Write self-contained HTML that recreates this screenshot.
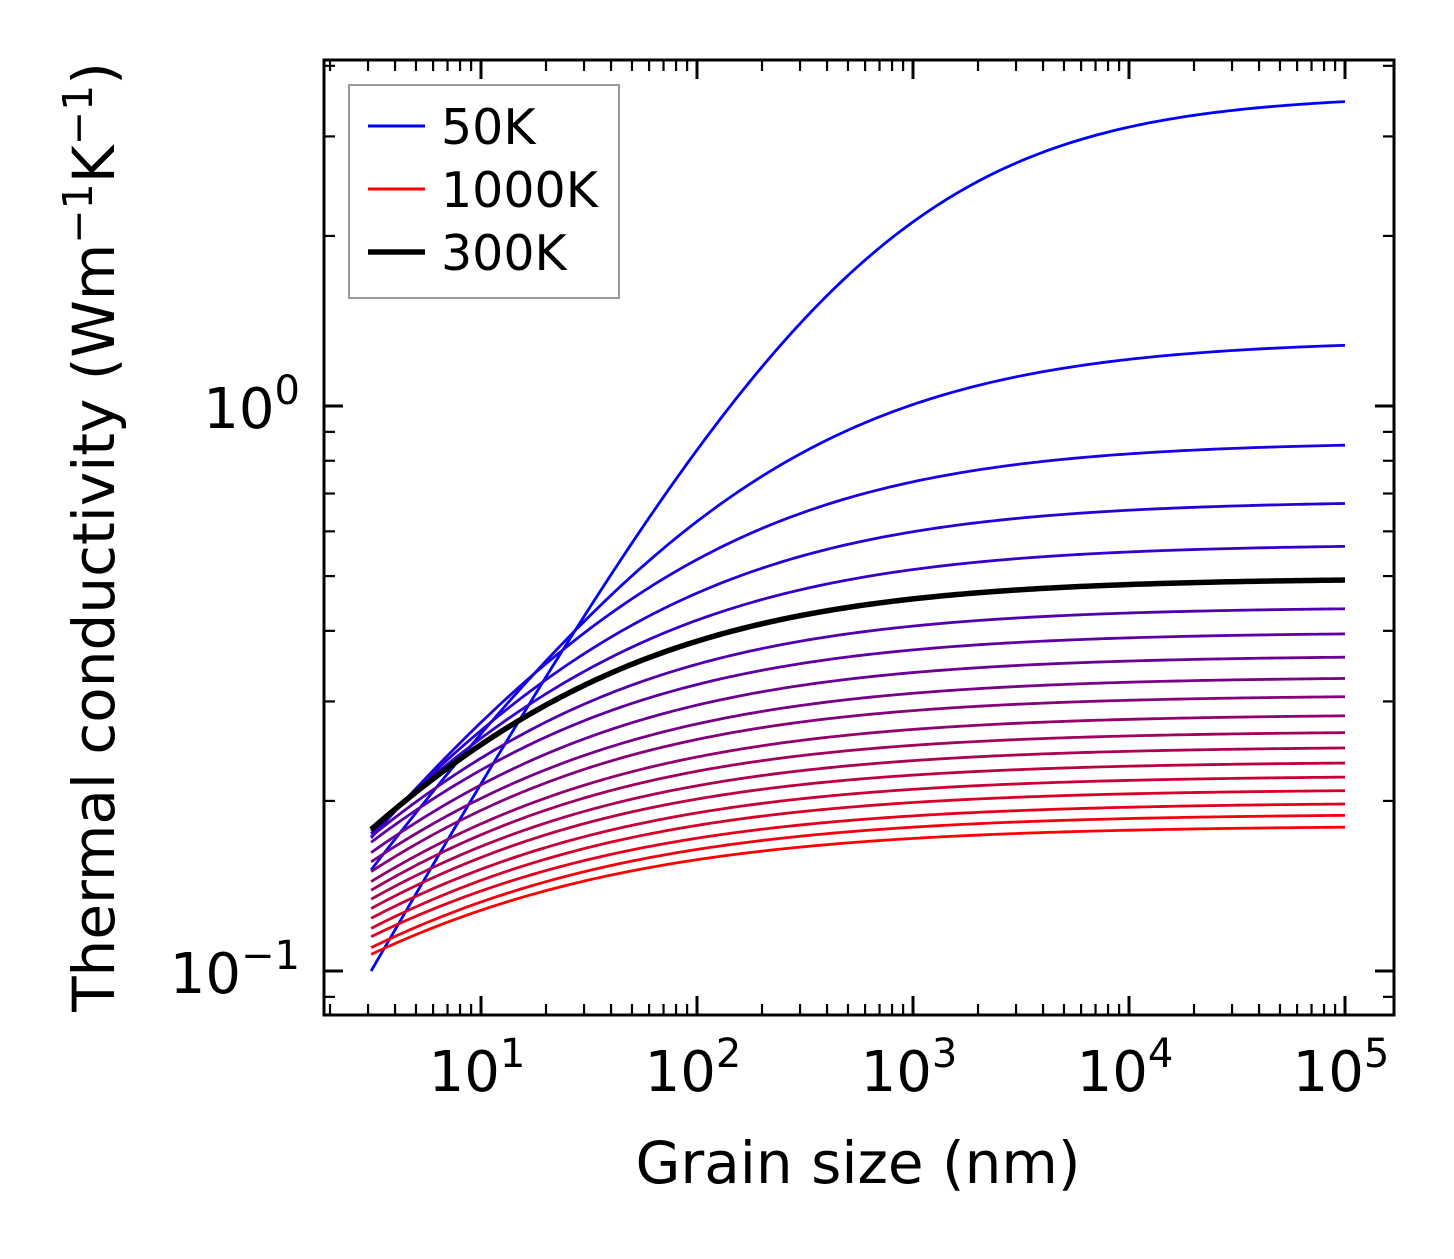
<!DOCTYPE html>
<html><head><meta charset="utf-8"><style>
html,body{margin:0;padding:0;background:#fff;}
svg text{font-family:"DejaVu Sans","Liberation Sans",sans-serif;fill:#000;}
</style></head><body>
<svg id="chart" width="1454" height="1254" viewBox="0 0 1454 1254" xmlns="http://www.w3.org/2000/svg">
<rect width="1454" height="1254" fill="#fff"/>
<g id="series"></g>
<g id="ticks"></g>
<rect x="324" y="60" width="1070" height="955" fill="none" stroke="#000" stroke-width="3"/>
<text x="858" y="1183" font-size="58" text-anchor="middle">Grain size (nm)</text>
<text transform="translate(114,537) rotate(-90)" font-size="58" text-anchor="middle">Thermal conductivity (Wm<tspan font-size="41" dy="-22">−1</tspan><tspan dy="22">K</tspan><tspan font-size="41" dy="-22">−1</tspan><tspan dy="22">)</tspan></text>
<g>
<rect x="349" y="85" width="270" height="213" fill="#fff" stroke="#999" stroke-width="2"/>
<line x1="368" y1="126" x2="425" y2="126" stroke="#0000ff" stroke-width="3"/>
<text x="441" y="144" font-size="49">50K</text>
<line x1="368" y1="189" x2="425" y2="189" stroke="#ff0000" stroke-width="3"/>
<text x="441" y="207" font-size="49">1000K</text>
<line x1="368" y1="252" x2="425" y2="252" stroke="#000" stroke-width="5.5"/>
<text x="441" y="270" font-size="49">300K</text>
</g>
</svg>
<script>
const temps = [50,100,150,200,250,300,350,400,450,500,550,600,650,700,750,800,850,900,950,1000];
const kStart = [0.100,0.151,0.172,0.175,0.177,0.178,0.173,0.169,0.162,0.156,0.150,0.144,0.139,0.134,0.129,0.124,0.119,0.115,0.110,0.107];
const kEnd = [3.56,1.31,0.865,0.68,0.57,0.496,0.441,0.398,0.362,0.332,0.308,0.285,0.266,0.250,0.235,0.222,0.210,0.199,0.190,0.181];
const exponent = [0.68,0.56,0.54,0.53,0.52,0.52,0.51,0.50,0.49,0.48,0.48,0.47,0.47,0.46,0.46,0.45,0.45,0.44,0.44,0.44];
const highlightTemp = 300;
const grainMin = 3.1, grainMax = 1e5;
const xTickExps = [1,2,3,4,5];
const yTickExps = [-1,0];

const NS = "http://www.w3.org/2000/svg";
const L = 324, R = 1394, T = 60, B = 1015;
const xLogMin = 1 + (L - 481) / 216, xLogMax = 1 + (R - 481) / 216;
const yLogMin = -(B - 406) / 565, yLogMax = (406 - T) / 565;
function xs(v){ return L + (Math.log10(v) - xLogMin) / (xLogMax - xLogMin) * (R - L); }
function ys(v){ return B - (Math.log10(v) - yLogMin) / (yLogMax - yLogMin) * (B - T); }
function mk(tag, attrs, parent){ const e = document.createElementNS(NS, tag); for (const k in attrs) e.setAttribute(k, attrs[k]); parent.appendChild(e); return e; }

const sg = document.getElementById('series');
function curvePath(i){
  const kinf = kEnd[i], ks = kStart[i], a = exponent[i];
  const lam = grainMin * Math.pow(kinf / ks - 1, 1 / a);
  let d = '';
  const n = 200;
  for (let j = 0; j <= n; j++) {
    const lg = Math.log10(grainMin) + (Math.log10(grainMax) - Math.log10(grainMin)) * j / n;
    const Lg = Math.pow(10, lg);
    const k = kinf / (1 + Math.pow(lam / Lg, a));
    d += (j ? 'L' : 'M') + xs(Lg).toFixed(2) + ',' + ys(k).toFixed(2);
  }
  return d;
}
temps.forEach((t, i) => {
  const f = (t - temps[0]) / (temps[temps.length - 1] - temps[0]);
  const col = 'rgb(' + Math.round(255 * f) + ',0,' + Math.round(255 * (1 - f)) + ')';
  const p = mk('path', {d: curvePath(i), fill: 'none', stroke: col, 'stroke-width': 2.8}, sg);
  
  
});
const hi = temps.indexOf(highlightTemp);
const hp = mk('path', {d: curvePath(hi), fill: 'none', stroke: '#000', 'stroke-width': 5.5}, sg);



const tg = document.getElementById('ticks');
for (let e = 0; e <= 5; e++) {
  for (let m = 1; m <= 9; m++) {
    const v = m * Math.pow(10, e);
    const x = xs(v);
    if (x < L || x > R) continue;
    const len = m === 1 ? 19 : 11;
    const sw = m === 1 ? 3 : 2.2;
    const t1 = mk('line', {x1: x, y1: B, x2: x, y2: B - len, stroke: '#000', 'stroke-width': sw}, tg);
    
    
    const t2 = mk('line', {x1: x, y1: T, x2: x, y2: T + len, stroke: '#000', 'stroke-width': sw}, tg);
    
    
  }
}
xTickExps.forEach(e => {
  const x = xs(Math.pow(10, e));
  const tx = mk('text', {x: x - 4, y: 1091, 'font-size': 56, 'text-anchor': 'middle'}, tg);
  
  
  tx.innerHTML = '10<tspan font-size="40" dy="-24">' + e + '</tspan>';
});
for (let e = -2; e <= 1; e++) {
  for (let m = 1; m <= 9; m++) {
    const v = m * Math.pow(10, e);
    const y = ys(v);
    if (y < T || y > B) continue;
    const len = m === 1 ? 19 : 11;
    const sw = m === 1 ? 3 : 2.2;
    const t1 = mk('line', {x1: L, y1: y, x2: L + len, y2: y, stroke: '#000', 'stroke-width': sw}, tg);
    
    
    const t2 = mk('line', {x1: R, y1: y, x2: R - len, y2: y, stroke: '#000', 'stroke-width': sw}, tg);
    
    
  }
}
yTickExps.forEach(e => {
  const y = ys(Math.pow(10, e));
  const tx = mk('text', {x: 300, y: y + 22, 'font-size': 56, 'text-anchor': 'end'}, tg);
  
  
  const ex = e < 0 ? '−' + (-e) : '' + e;
  tx.innerHTML = '10<tspan font-size="40" dy="-24">' + ex + '</tspan>';
});
</script>
</body></html>
